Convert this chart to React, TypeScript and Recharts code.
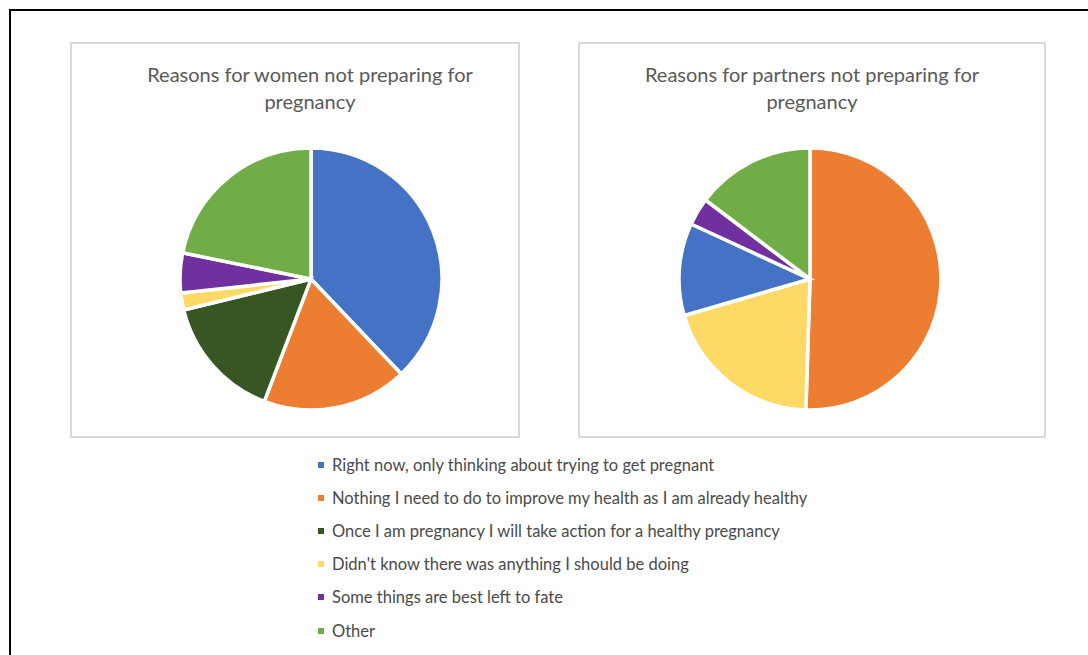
import { Cell, Pie, PieChart } from 'recharts'

// legend categories, shared by both pies
const REASONS = [
  'Right now, only thinking about trying to get pregnant',
  'Nothing I need to do to improve my health as I am already healthy',
  'Once I am pregnancy I will take action for a healthy pregnancy',
  "Didn't know there was anything I should be doing",
  'Some things are best left to fate',
  'Other',
]
const REASON_COLORS = ['#4472c4', '#ed7d31', '#375623', '#ffd966', '#7030a0', '#70ad47']

// women: slices clockwise from 12 o'clock (share, %)
const WOMEN_IDX = [0, 1, 2, 3, 4, 5]
const WOMEN_VALUES = [37.9, 17.9, 15.4, 2.1, 4.9, 21.8]

// partners: slices clockwise from 12 o'clock (share, %)
const PARTNER_IDX = [1, 3, 0, 4, 5]
const PARTNER_VALUES = [50.5, 20.0, 11.4, 3.4, 14.7]

const FONT = 'Lato, "Open Sans", sans-serif'

type PanelProps = {
  left: number
  width: number
  titleX: number
  title: string[]
  idx: number[]
  values: number[]
  cx: number
}

function Panel({ left, width, titleX, title, idx, values, cx }: PanelProps) {
  const data = idx.map((i, k) => ({ name: REASONS[i], value: values[k], color: REASON_COLORS[i] }))
  return (
    <div
      style={{
        position: 'absolute',
        left,
        top: 42,
        width,
        height: 396,
        border: '2px solid #d9d9d9',
        boxSizing: 'border-box',
        background: '#fff',
      }}
    >
      <div
        style={{
          position: 'absolute',
          left: titleX - left - 2 - 220,
          width: 440,
          top: 17,
          textAlign: 'center',
          fontFamily: FONT,
          fontSize: 20,
          lineHeight: '27px',
          color: '#595959',
        }}
      >
        {title.map((t) => (
          <div key={t}>{t}</div>
        ))}
      </div>
      <div style={{ position: 'absolute', left: -2, top: -2 }}>
        <PieChart width={width} height={396} margin={{ top: 0, right: 0, bottom: 0, left: 0 }}>
          <Pie
            data={data}
            dataKey="value"
            nameKey="name"
            cx={cx - left}
            cy={279 - 42}
            outerRadius={131}
            startAngle={90}
            endAngle={-270}
            stroke="#fff"
            strokeWidth={3.5}
            isAnimationActive={false}
          >
            {data.map((d) => (
              <Cell key={d.name} fill={d.color} />
            ))}
          </Pie>
        </PieChart>
      </div>
    </div>
  )
}

export default function App() {
  return (
    <div
      style={{
        position: 'absolute',
        left: 0,
        top: 0,
        width: 1088,
        height: 655,
        overflow: 'hidden',
        background: '#fff',
      }}
    >
      {/* outer frame, runs off the right and bottom */}
      <div
        style={{
          position: 'absolute',
          left: 9,
          top: 9,
          width: 1200,
          height: 800,
          border: '2px solid #000',
        }}
      />
      <Panel
        left={70}
        width={450}
        titleX={310}
        title={['Reasons for women not preparing for', 'pregnancy']}
        idx={WOMEN_IDX}
        values={WOMEN_VALUES}
        cx={311}
      />
      <Panel
        left={578}
        width={468}
        titleX={812}
        title={['Reasons for partners not preparing for', 'pregnancy']}
        idx={PARTNER_IDX}
        values={PARTNER_VALUES}
        cx={810}
      />
      <div style={{ position: 'absolute', left: 318, top: 448, fontFamily: FONT, fontSize: 16.5, color: '#4a4a4a' }}>
        {REASONS.map((r, i) => (
          <div key={r} style={{ display: 'flex', alignItems: 'center', height: 33.2 }}>
            <span
              style={{
                display: 'inline-block',
                width: 6,
                height: 6,
                background: REASON_COLORS[i],
                marginRight: 8,
              }}
            />
            <span>{r}</span>
          </div>
        ))}
      </div>
    </div>
  )
}
